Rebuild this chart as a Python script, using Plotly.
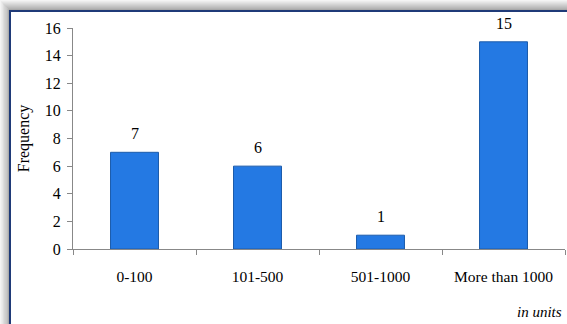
import plotly.graph_objects as go

categories = ["0-100", "101-500", "501-1000", "More than 1000"]
frequency = [7, 6, 1, 15]
y_ticks = [0, 2, 4, 6, 8, 10, 12, 14, 16]

W, H = 567, 324
L, R, T, B = 73, 2, 28, 75
PW, PH = W - L - R, H - T - B

def px(x):
    return (x - L) / PW

def py(y):
    return (H - B - y) / PH

SERIF = "Liberation Serif"

shapes = []
# shadow gradient (top and left)
grays = ["#f4f4f4", "#ececec", "#e4e4e4", "#dcdcdc", "#d4d4d4", "#cccccc", "#c4c4c4", "#bcbcbc", "#b4b4b4", "#a8a8a8", "#9c9c9c"]
for i, g in enumerate(grays):
    shapes.append(dict(type="rect", xref="paper", yref="paper", layer="below",
                       x0=px(i * 10 / 11), x1=px(W), y0=py(i), y1=py(i + 1),
                       fillcolor=g, line=dict(width=0)))
    shapes.append(dict(type="rect", xref="paper", yref="paper", layer="below",
                       x0=px(i * 10 / 11 * 0.9), x1=px((i + 1) * 10 / 11 * 0.9), y0=py(i), y1=py(H),
                       fillcolor=g, line=dict(width=0)))
# white panel with navy border
shapes.append(dict(type="rect", xref="paper", yref="paper", layer="below",
                   x0=px(10), x1=px(W + 20), y0=py(11), y1=py(H + 20),
                   fillcolor="white", line=dict(color="#1f3a78", width=2)))

fig = go.Figure(go.Bar(
    x=categories, y=frequency, width=0.39,
    marker=dict(color="#2479e3", line=dict(color="#1c5cab", width=1)),
))

annotations = [dict(x=c, y=v, text=str(v), xref="x", yref="y", yanchor="bottom",
                    yshift=8, showarrow=False,
                    font=dict(family=SERIF, size=16, color="black"))
               for c, v in zip(categories, frequency)]
annotations.append(dict(text="<i>in units</i>", xref="paper", yref="paper",
                        x=px(564), y=py(312), xanchor="right", yanchor="middle",
                        showarrow=False, font=dict(family=SERIF, size=15, color="black")))

fig.update_layout(
    width=W, height=H,
    margin=dict(l=L, r=R, t=T, b=B),
    paper_bgcolor="white", plot_bgcolor="rgba(0,0,0,0)",
    showlegend=False,
    shapes=shapes,
    font=dict(family=SERIF, color="black"),
    annotations=annotations,
)
fig.update_xaxes(
    showgrid=False, showline=True, linecolor="#888888", linewidth=1,
    ticks="outside", tickson="boundaries", ticklen=5, tickcolor="#888888",
    tickfont=dict(family=SERIF, size=15.5, color="black"),
    ticklabelstandoff=13,
    range=[-0.5, 3.5],
)
fig.update_yaxes(
    range=[0, 16], tickvals=y_ticks, showgrid=False, zeroline=False,
    showline=True, linecolor="#888888", linewidth=1,
    ticks="outside", ticklen=5, tickcolor="#888888",
    tickfont=dict(family=SERIF, size=16, color="black"),
    ticklabelstandoff=3,
    title=dict(text="Frequency", font=dict(family=SERIF, size=16, color="black"), standoff=11),
)

fig.write_html("out.html")
